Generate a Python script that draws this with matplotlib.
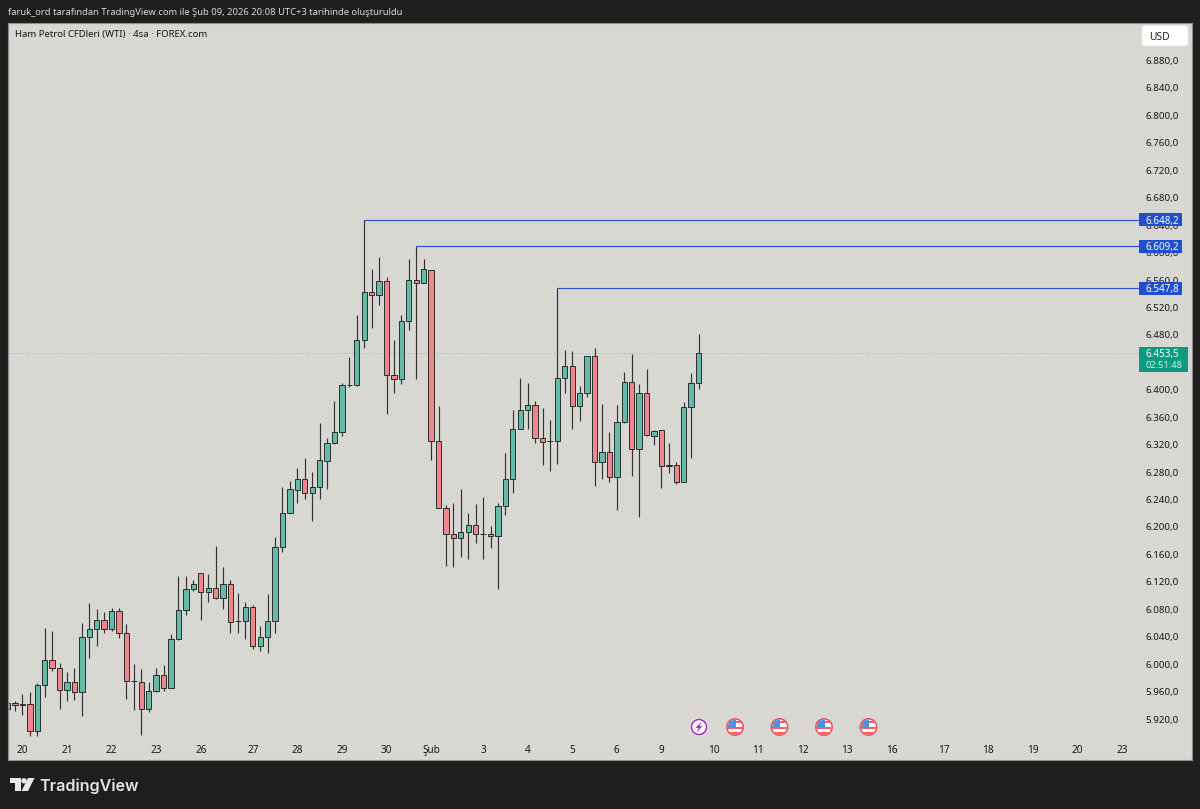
import matplotlib
matplotlib.use("Agg")
import matplotlib.pyplot as plt
from matplotlib.patches import Circle, FancyBboxPatch, Polygon, Rectangle

# 4 saatlik mumlar
opens = [5934, 5944, 5942, 5942, 5903, 5970, 6006, 5995, 5963, 5974,
         5960, 6039, 6051, 6065, 6051, 6077, 6045, 5975, 5974, 5934,
         5961, 5984, 5966, 6036, 6079, 6109, 6133, 6105, 6111, 6096,
         6117, 6063, 6063, 6083, 6026, 6039, 6063, 6171, 6220, 6254,
         6270, 6249, 6259, 6296, 6322, 6339, 6407, 6407, 6473, 6543,
         6538, 6558, 6422, 6415, 6500, 6560, 6556, 6574, 6326, 6228,
         6190, 6184, 6192, 6203, 6190, 6190, 6187, 6230, 6270, 6343,
         6370, 6378, 6329, 6326, 6326, 6417, 6435, 6377, 6396, 6449,
         6295, 6310, 6273, 6353, 6411, 6314, 6396, 6333, 6341, 6289,
         6291, 6266, 6375, 6410]
closes = [5944, 5940, 5941, 5903, 5970, 6006, 5995, 5963, 5974, 5960,
          6039, 6051, 6065, 6051, 6077, 6045, 5975, 5975, 5934, 5961,
          5984, 5966, 6036, 6079, 6109, 6117, 6105, 6111, 6096, 6117,
          6062, 6063, 6083, 6026, 6039, 6063, 6171, 6220, 6255, 6270,
          6250, 6259, 6297, 6322, 6339, 6407, 6407, 6473, 6543, 6538,
          6558, 6422, 6415, 6500, 6560, 6556, 6576, 6326, 6228, 6190,
          6184, 6192, 6203, 6190, 6190, 6187, 6230, 6270, 6343, 6370,
          6378, 6329, 6324, 6326, 6417, 6435, 6377, 6396, 6449, 6295,
          6310, 6273, 6353, 6411, 6314, 6396, 6334, 6340, 6289, 6291,
          6266, 6375, 6410, 6453.5]
highs = [5945, 5946, 5957, 5960, 5973, 6053, 6049, 6002, 5989, 5995,
         6060, 6089, 6080, 6076, 6082, 6082, 6059, 6000, 5993, 5974,
         5994, 5999, 6044, 6128, 6128, 6123, 6133, 6131, 6172, 6142,
         6122, 6104, 6091, 6086, 6056, 6103, 6185, 6259, 6267, 6286,
         6300, 6280, 6352, 6329, 6383, 6410, 6448, 6509, 6648.2, 6576,
         6594, 6565, 6473, 6509, 6590, 6609.2, 6591, 6574, 6377, 6232,
         6235, 6255, 6220, 6234, 6243, 6201, 6235, 6308, 6370, 6417,
         6410, 6384, 6374, 6356, 6547.8, 6458, 6456, 6405, 6449, 6461,
         6379, 6339, 6378, 6426, 6452, 6409, 6431, 6342, 6341, 6323,
         6295, 6382, 6425, 6481]
lows = [5933, 5932, 5926, 5896, 5895, 5952, 5990, 5934, 5947, 5948,
        5924, 6009, 6027, 6045, 6048, 6038, 5949, 5933, 5897, 5931,
        5959, 5961, 5966, 6035, 6071, 6107, 6064, 6090, 6095, 6081,
        6045, 6045, 6036, 6022, 6019, 6016, 6045, 6164, 6220, 6235,
        6241, 6208, 6241, 6256, 6321, 6332, 6404, 6406, 6461, 6490,
        6523, 6365, 6396, 6408, 6487, 6416, 6555, 6297, 6228, 6143,
        6141, 6156, 6154, 6176, 6154, 6169, 6109, 6218, 6250, 6343,
        6343, 6323, 6291, 6282, 6292, 6395, 6343, 6354, 6389, 6260,
        6270, 6265, 6225, 6352, 6274, 6214, 6333, 6320, 6257, 6278,
        6263, 6266, 6300, 6401]

price_ticks = list(range(5920, 6881, 40))
date_positions = [2, 8, 14, 20, 26, 33, 39, 45, 51, 57, 64, 70, 76, 82, 88,
                  95, 101, 107, 113, 119, 126, 132, 138, 144, 150]
date_labels = ["20", "21", "22", "23", "26", "27", "28", "29", "30", "Şub",
               "3", "4", "5", "6", "9", "10", "11", "12", "13", "16",
               "17", "18", "19", "20", "23"]
level_prices = [6648.2, 6609.2, 6547.8]
level_starts = [48, 55, 74]
last_price = 6453.5
countdown = "02:51:48"

BG_DARK = "#1e1e1e"
BG_PANE = "#d8d7d2"
UP = "#66baa7"
DOWN = "#f0868d"
BORDER = "#1d2626"
BLUE = "#1f4fcc"
GREEN_TAG = "#0b9b80"
FONT = "Noto Sans"

W, H = 1200, 809
PANE_L, PANE_R, PANE_T, PANE_B = 8.3, 1191.7, 22.7, 760
X0, STEP = 7.57, 7.43     # px of candle 0, px per candle
PX_PER_PRICE = 0.686


def fmt_price(v):
    return f"{v:,.1f}".replace(",", "X").replace(".", ",").replace("X", ".")


def px_to_i(px):
    return (px - X0) / STEP


plt.rcParams["font.family"] = [FONT, "DejaVu Sans"]

fig = plt.figure(figsize=(W / 100, H / 100), dpi=100, facecolor=BG_DARK)
ax = fig.add_axes([PANE_L / W, (H - PANE_B) / H,
                   (PANE_R - PANE_L) / W, (PANE_B - PANE_T) / H],
                  facecolor=BG_PANE)
ax.set_xlim(px_to_i(PANE_L), px_to_i(PANE_R))
ax.set_ylim(6880 - (PANE_B - 60.5) / PX_PER_PRICE,
            6880 + (60.5 - PANE_T) / PX_PER_PRICE)

# mumlar
xs = list(range(len(opens)))
body_bottom = [min(o, c) for o, c in zip(opens, closes)]
body_height = [abs(c - o) for o, c in zip(opens, closes)]
colors = [UP if c >= o else DOWN for o, c in zip(opens, closes)]
ax.vlines(xs, lows, highs, color="#333333", linewidth=0.85, zorder=2)
ax.bar(xs, body_height, bottom=body_bottom, width=0.72, color=colors,
       edgecolor=BORDER, linewidth=0.65, zorder=2.2)

# yatay seviyeler
line_end = px_to_i(1139)
for price, start in zip(level_prices, level_starts):
    ax.hlines(price, start, line_end, color="#2a55c8", linewidth=0.85, zorder=1.8)
ax.hlines(last_price, px_to_i(PANE_L), line_end, color="#8fb8a8",
          linewidth=0.7, linestyles=(0, (1, 2)), zorder=1.5)

# eksenler
ax.yaxis.tick_right()
ax.set_yticks(price_ticks)
ax.set_yticklabels([fmt_price(v) for v in price_ticks])
ax.set_xticks(date_positions)
ax.set_xticklabels(date_labels)
ax.tick_params(axis="y", length=0, pad=-33, labelsize=7, labelcolor="#161616")
ax.tick_params(axis="x", length=0, pad=-10.8, labelsize=7.2, labelcolor="#161616")
for lab in ax.get_xticklabels():
    lab.set_ha("center")
    lab.set_fontweight("bold" if lab.get_text() == "Şub" else "medium")
for lab in ax.get_yticklabels():
    lab.set_ha("left")
    lab.set_fontweight("medium")
for side in ax.spines.values():
    side.set_color("#8c8c88")
    side.set_linewidth(0.8)

# fiyat etiketleri
tag_x = px_to_i(1139)
tag_w = 43 / STEP
for price in level_prices:
    h = 13 / PX_PER_PRICE
    ax.add_patch(Rectangle((tag_x, price - h / 2), tag_w, h, facecolor=BLUE,
                           edgecolor="none", zorder=4))
    ax.text(px_to_i(1145.5), price, fmt_price(price), color="white",
            fontsize=7.1, fontweight="bold", ha="left", va="center_baseline",
            zorder=5)
ax.add_patch(Rectangle((tag_x, last_price - 19 / PX_PER_PRICE),
                       48.7 / STEP, 25.3 / PX_PER_PRICE,
                       facecolor=GREEN_TAG, edgecolor="none", zorder=4))
ax.text(px_to_i(1145.5), last_price, fmt_price(last_price), color="white",
        fontsize=7.1, fontweight="semibold", ha="left", va="center_baseline", zorder=5)
ax.text(px_to_i(1145.5), last_price - 11.5 / PX_PER_PRICE, countdown, color="#d5eee8",
        fontsize=6.6, ha="left", va="center_baseline", zorder=5)
ax.text(px_to_i(15), 6880 + (60.5 - 33.5) / PX_PER_PRICE,
        "Ham Petrol CFDleri (WTI) · 4sa · FOREX.com", color="#161616",
        fontsize=6.9, fontweight="medium", ha="left", va="center_baseline", zorder=5)

# pencere katmani: baslik, logo, USD kutusu, olay simgeleri
top = fig.add_axes([0, 0, 1, 1], facecolor="none")
top.set_xlim(0, W)
top.set_ylim(H, 0)
top.set_axis_off()

top.text(8, 11.5, "faruk_ord tarafından TradingView.com ile Şub 09, 2026 20:08 UTC+3 tarihinde oluşturuldu",
         color="#dcdcdc", fontsize=6.75, fontweight="medium", ha="left", va="center_baseline")

top.add_patch(FancyBboxPatch((1142, 25.5), 46, 20.5, boxstyle="round,pad=0,rounding_size=2.5",
                             facecolor="white", edgecolor="#e8e8e4", linewidth=0.8))
top.text(1149, 36, "USD", color="#222222", fontsize=7.4, fontweight="medium",
         ha="left", va="center_baseline")

# TradingView logosu
top.add_patch(Polygon([(10, 778), (20.5, 778), (20.5, 791), (15, 791), (15, 783), (10, 783)],
                      closed=True, facecolor="#e8e8e8", edgecolor="none"))
top.add_patch(Circle((24, 780.8), 2.7, facecolor="#e8e8e8", edgecolor="none"))
top.add_patch(Polygon([(28, 778), (34.5, 778), (28, 791), (21.5, 791)],
                      closed=True, facecolor="#e8e8e8", edgecolor="none"))
top.text(39.5, 785, "TradingView", color="#e4e4e4", fontsize=11.6, fontfamily="Inter",
         fontweight="semibold", ha="left", va="center_baseline")

# olay simgeleri
ICON_Y = 727
top.add_patch(Circle((699, ICON_Y), 9.2, facecolor="white", edgecolor="none"))
top.add_patch(Circle((699, ICON_Y), 7.6, facecolor="white", edgecolor="#9b35c4", linewidth=1.2))
top.add_patch(Polygon([(701.5, 721.5), (695.5, 728), (698.5, 728), (696.5, 732.5),
                       (702.5, 726), (699.5, 726)],
                      closed=True, facecolor="#9b35c4", edgecolor="none"))
for cx in [735, 779.5, 824, 868.5]:
    top.add_patch(Circle((cx, ICON_Y), 9.0, facecolor="#f0525e", edgecolor="none"))
    inner = Circle((cx, ICON_Y), 7.3, facecolor="white", edgecolor="none")
    top.add_patch(inner)
    for dy, col in [(-6, "#f4606a"), (-3, "white"), (0, "#f4606a"), (3, "white"), (5, "#f4606a")]:
        bar = Rectangle((cx - 8, ICON_Y + dy), 16, 2.4, facecolor=col, edgecolor="none")
        top.add_patch(bar)
        bar.set_clip_path(inner)
    canton = Rectangle((cx - 8, ICON_Y - 8), 8.5, 8.5, facecolor="#4a93de", edgecolor="none")
    top.add_patch(canton)
    canton.set_clip_path(inner)

fig.savefig("out.png", dpi=100, facecolor=BG_DARK)
plt.close(fig)
